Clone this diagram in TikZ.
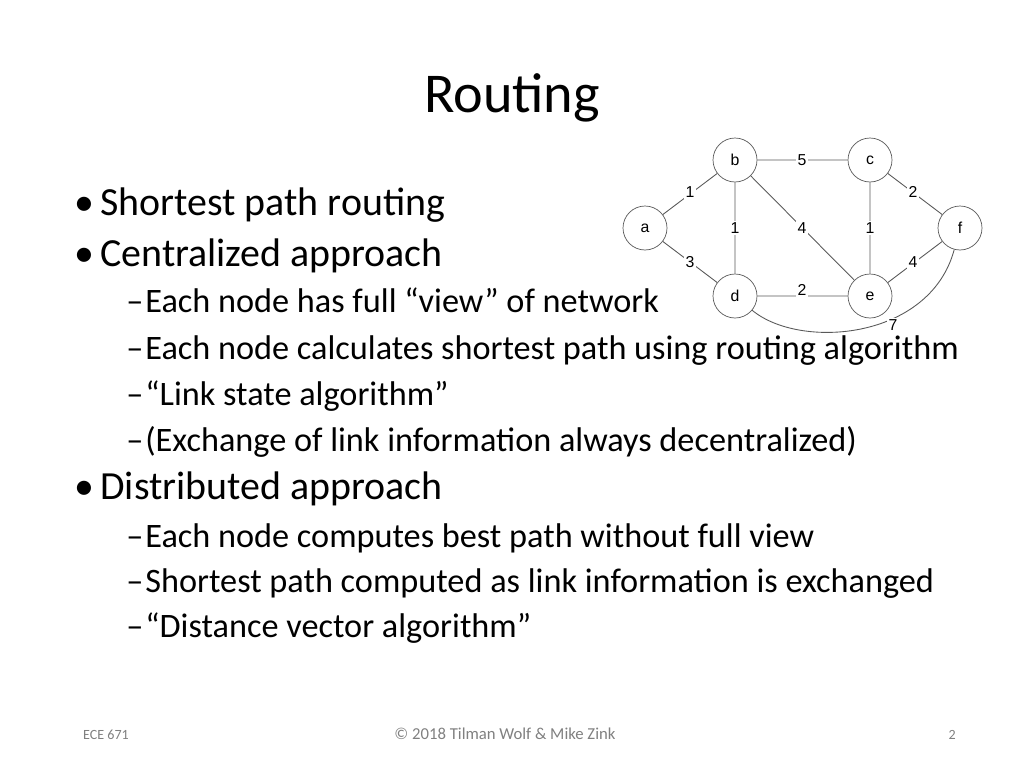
\documentclass[tikz,border=0pt]{standalone}
\usepackage{fontspec}
\setmainfont{Carlito}
\newfontfamily\graphfont{Liberation Sans}
\usetikzlibrary{positioning}
\tikzset{
  router/.style = {circle, draw, gray!70!black, text=black, minimum size=0.88cm,
     inner sep=0pt, fill=white, font=\graphfont\fontsize{9}{10}\selectfont},
  link/.style = {draw, gray!70!black, line width=0.5pt},
  cost/.style = {fill=white, inner sep=1pt, font=\graphfont\fontsize{9}{10}\selectfont},
  bulletA/.style = {anchor=base west, inner sep=0pt, font=\fontsize{22.7}{24}\selectfont},
  bulletB/.style = {anchor=base west, inner sep=0pt, font=\fontsize{19.5}{22}\selectfont},
  foot/.style = {anchor=base, text=gray, font=\fontsize{8}{9}\selectfont}
}
\begin{document}
\begin{tikzpicture}[x=0.02cm,y=-0.02cm]
\useasboundingbox (0,0) rectangle (1024,768);
\node (title) at (512,98) {\fontsize{32}{36}\selectfont Routing};
% graph
\node [router] (a) at (645,228) {a};
\node [router] (b) at (735,160) {b};
\node [router] (c) at (870,160) {c};
\node [router] (f) at (960,228) {f};
\node [router] (d) at (735,296) {d};
\node [router] (e) at (870,296) {e};
\path [link] (a) -- (b) (a) -- (d) (b) -- (c) (b) -- (d) (b) -- (e)
  (c) -- (e) (c) -- (f) (e) -- (f) (d) -- (e);
\path [link] (d) .. controls (800,350) and (930,340) .. (f);
\node [cost] (ab) at (690,192) {1};
\node [cost] (ad) at (690,262) {3};
\node [cost] (bc) at (802,160) {5};
\node [cost] (bd) at (735,228) {1};
\node [cost] (be) at (802,228) {4};
\node [cost] (ce) at (870,228) {1};
\node [cost] (cf) at (913,192) {2};
\node [cost] (ef) at (913,262) {4};
\node [cost] (de) at (802,290) {2};
\node [cost] (df) at (893,325) {7};
% bullets
\foreach \y/\t in {207/Shortest path routing, 258/Centralized approach, 491/Distributed approach}{
  \node [bulletA] at (74,\y+8) {\textbullet};
  \node [bulletA] at (100,\y+8) {\t};
}
\foreach \y/\t in {305/Each node has full “view” of network,
  352/Each node calculates shortest path using routing algorithm,
  398/“Link state algorithm”,
  444/(Exchange of link information always decentralized),
  540/Each node computes best path without full view,
  585/Shortest path computed as link information is exchanged,
  630/“Distance vector algorithm”}{
  \node [bulletB] at (126,\y+7) {–};
  \node [bulletB] at (145,\y+7) {\t};
}
% footer
\node [foot, anchor=base west] (course) at (77,739) {ECE 671};
\node [foot, font=\fontsize{9.5}{10}\selectfont] (copy) at (505,739) {© 2018 Tilman Wolf \& Mike Zink};
\node [foot, anchor=base east] (page) at (962,739) {2};
\end{tikzpicture}
\end{document}
